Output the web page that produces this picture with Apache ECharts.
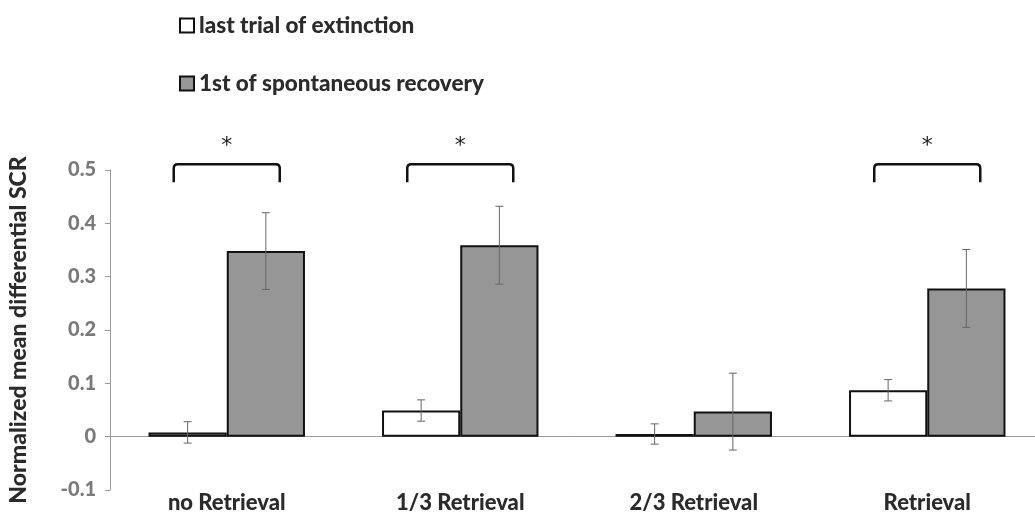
<!DOCTYPE html>
<html><head><meta charset="utf-8">
<script src="https://cdn.jsdelivr.net/npm/echarts@6/dist/echarts.min.js"></script>
<style>html,body{margin:0;padding:0;background:#fff}#c{width:1035px;height:513px}</style>
</head><body><div id="c"></div>
<script>
const categories = ['no Retrieval', '1/3 Retrieval', '2/3 Retrieval', 'Retrieval'];
const seriesNames = ['last trial of extinction', '1st of spontaneous recovery'];
const extinction = [0.008, 0.049, 0.005, 0.087];
const extinctionErr = [0.02, 0.02, 0.019, 0.02];
const recovery = [0.348, 0.359, 0.047, 0.278];
const recoveryErr = [0.072, 0.073, 0.072, 0.073];
const sigGroups = [0, 1, 3];
const bracketLevels = [0.477, 0.511];
const starLevel = 0.545;
const yMin = -0.1, yMax = 0.5, yStep = 0.1;

const FONT = 'Lato';
const chart = echarts.init(document.getElementById('c'), null, {renderer: 'canvas'});

function errData(vals, errs) {
  return vals.map((v, i) => [i, v - errs[i], v + errs[i]]);
}
function errSeries(vals, errs, side) {
  return {
    type: 'custom', silent: true, z: 5,
    data: errData(vals, errs),
    renderItem: function (params, api) {
      const band = api.size([1, 0])[0];
      const off = side * band * 0.1675;
      const lo = api.coord([api.value(0), api.value(1)]);
      const hi = api.coord([api.value(0), api.value(2)]);
      const x = lo[0] + off, c = 4;
      const st = {stroke: '#666', lineWidth: 1};
      return {type: 'group', children: [
        {type: 'line', shape: {x1: x, y1: lo[1], x2: x, y2: hi[1]}, style: st},
        {type: 'line', shape: {x1: x - c, y1: lo[1], x2: x + c, y2: lo[1]}, style: st},
        {type: 'line', shape: {x1: x - c, y1: hi[1], x2: x + c, y2: hi[1]}, style: st}
      ]};
    }
  };
}

chart.setOption({
  animation: false,
  backgroundColor: '#fff',
  legend: {
    orient: 'vertical', left: 179, top: 14, padding: 0, itemWidth: 14, itemHeight: 14, itemGap: 35,
    icon: 'rect',
    data: seriesNames,
    textStyle: {fontFamily: FONT, fontWeight: 900, fontSize: 22.5, color: '#2b2b2b'}
  },
  grid: {left: 110, right: -9, top: 170, bottom: 23, containLabel: false, outerBoundsMode: 'none'},
  xAxis: [{
    type: 'category', data: categories,
    axisLine: {onZero: true, lineStyle: {color: '#9a9a9a', width: 1}},
    axisTick: {show: false},
    axisLabel: {show: false}
  }, {
    type: 'category', data: categories, position: 'bottom',
    axisLine: {show: false, onZero: false},
    axisTick: {show: false},
    axisLabel: {show: true, interval: 0, margin: 2, fontFamily: FONT, fontWeight: 900, fontSize: 22, color: '#2b2b2b'}
  }],
  yAxis: {
    type: 'value', min: yMin, max: yMax, interval: yStep,
    name: 'Normalized mean differential SCR', nameLocation: 'middle', nameGap: 80, nameRotate: 90,
    nameTextStyle: {fontFamily: FONT, fontWeight: 900, fontSize: 23, color: '#2b2b2b'},
    axisLine: {show: true, lineStyle: {color: '#9a9a9a'}},
    axisTick: {show: true, length: 5, lineStyle: {color: '#9a9a9a'}},
    splitLine: {show: false},
    axisLabel: {margin: 14, fontFamily: FONT, fontWeight: 900, fontSize: 20, color: '#7a7a7a',
      formatter: v => String(Math.round(v * 10) / 10)}
  },
  series: [
    {name: seriesNames[0], type: 'bar', data: extinction, barGap: '0%', barCategoryGap: '33%',
     itemStyle: {color: '#ffffff', borderColor: '#111', borderWidth: 2}},
    {name: seriesNames[1], type: 'bar', data: recovery, barGap: '0%', barCategoryGap: '33%',
     itemStyle: {color: '#969696', borderColor: '#111', borderWidth: 2}},
    errSeries(extinction, extinctionErr, -1),
    errSeries(recovery, recoveryErr, 1),
    {
      type: 'custom', silent: true, z: 6, clip: false,
      data: sigGroups.map(g => [g, bracketLevels[0], bracketLevels[1], starLevel]),
      renderItem: function (params, api) {
        const band = api.size([1, 0])[0];
        const hw = band * 0.227;
        const lo = api.coord([api.value(0), api.value(1)]);
        const hi = api.coord([api.value(0), api.value(2)]);
        const st = api.coord([api.value(0), api.value(3)]);
        const cx = lo[0], r = 4;
        const path = 'M' + (cx - hw) + ' ' + lo[1] + ' L' + (cx - hw) + ' ' + (hi[1] + r) +
          ' Q' + (cx - hw) + ' ' + hi[1] + ' ' + (cx - hw + r) + ' ' + hi[1] +
          ' L' + (cx + hw - r) + ' ' + hi[1] +
          ' Q' + (cx + hw) + ' ' + hi[1] + ' ' + (cx + hw) + ' ' + (hi[1] + r) +
          ' L' + (cx + hw) + ' ' + lo[1];
        return {type: 'group', children: [
          {type: 'path', shape: {pathData: path}, style: {stroke: '#111', lineWidth: 2.5, fill: null}},
          {type: 'text', x: cx, y: st[1], style: {text: '*', fontFamily: 'DejaVu Sans', fontSize: 22,
            fill: '#222', align: 'center', verticalAlign: 'middle'}}
        ]};
      }
    }
  ]
});
</script></body></html>
